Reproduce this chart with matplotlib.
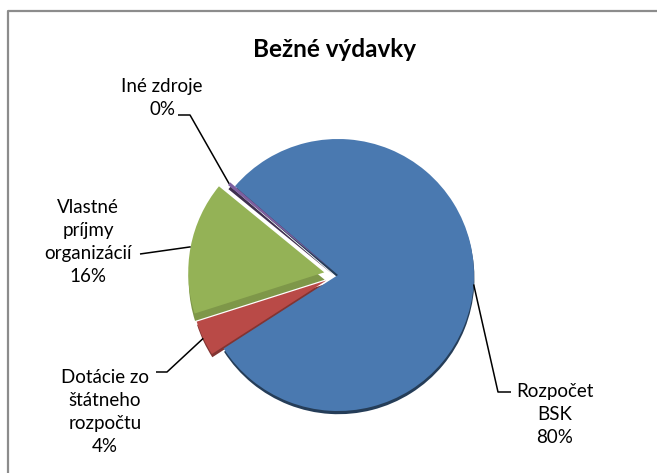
import numpy as np
import matplotlib
matplotlib.use("Agg")
import matplotlib.pyplot as plt
from matplotlib.patches import Shadow

plt.rcParams["font.family"] = ["Lato", "DejaVu Sans"]

title = "Bežné výdavky"
sources = ["Rozpočet\nBSK", "Dotácie zo\nštátneho\nrozpočtu", "Vlastné\npríjmy\norganizácií", "Iné zdroje"]
shares = [79.6, 4.2, 15.8, 0.4]
colors = ["#4a79b0", "#b94a47", "#94b256", "#7d5f9f"]
explode = [0.0, 0.095, 0.103, 0.045]   # fraction of radius
depth = [2.3, 2.3, 5.3, 3.0]           # fake 3d side thickness per slice
side_shade = [0.5, 0.3, 0.15, 0.5]

# label layout (pixel coords, y from bottom): text anchor, leader bend points
label_pos = [(555, 30), (105, 21), (88, 191), (162, 358)]
leaders = [
    [(498, 81), (511, 81)],
    [(167, 101), (156, 101)],
    [(140, 219)],
    [(190, 358), (178, 358)],
]

W, H = 657, 473
fig = plt.figure(figsize=(W / 100, H / 100), dpi=100)
ax = fig.add_axes([0, 0, 1, 1])

cx, cy, r = 338, 198, 136
wedges, _ = ax.pie(shares, colors=colors, explode=[e * r for e in explode],
                   startangle=139.3, counterclock=False, center=(cx, cy), radius=r,
                   frame=True, wedgeprops=dict(linewidth=0))
for w, d, s in zip(wedges, depth, side_shade):
    ax.add_patch(Shadow(w, 0.3, -d, shade=s, alpha=1, zorder=0.5))
ax.set_xlim(0, W)
ax.set_ylim(0, H)
ax.set_aspect("equal")
ax.axis("off")

total = sum(shares)
for w, name, v, (tx, ty), pts in zip(wedges, sources, shares, label_pos, leaders):
    mid = np.deg2rad((w.theta1 + w.theta2) / 2)
    x0 = w.center[0] + w.r * np.cos(mid)
    y0 = w.center[1] + w.r * np.sin(mid)
    xs = [x0] + [p[0] for p in pts]
    ys = [y0] + [p[1] for p in pts]
    ax.plot(xs, ys, color="black", lw=1.1, solid_capstyle="butt")
    ax.text(tx, ty, f"{name}\n{v / total * 100:.0f}%", ha="center", va="baseline",
            fontsize=13.5, linespacing=1.42, multialignment="center")

ax.text(334.5, 416, title, ha="center", va="baseline", fontsize=17.5, fontweight="bold")

# chart frame (only top and left edges fall inside the image)
ax.plot([8, 8, W + 5], [-5, 462, 462], color="#8c8c8c", lw=1.6, clip_on=False)

fig.savefig("out.png", dpi=100)
